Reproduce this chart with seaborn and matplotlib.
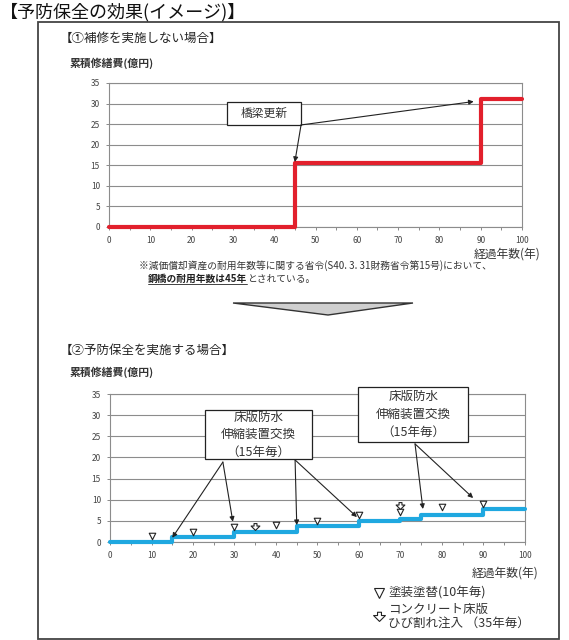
import matplotlib
matplotlib.use('Agg')
import matplotlib.pyplot as plt
from matplotlib.patches import Rectangle, Polygon
from matplotlib.lines import Line2D
from matplotlib.path import Path
import seaborn as sns

# ①補修を実施しない場合
nenji1 = [0, 45, 90, 100]
hiyou1 = [0, 15.5, 31, 31]

# ②予防保全を実施する場合
nenji2 = [0, 15, 30, 45, 60, 70, 75, 90, 100]
hiyou2 = [0, 1.2, 2.4, 3.7, 4.9, 5.5, 6.5, 7.7, 7.7]

# 塗装塗替 (10年毎) の印
tosou_nen = [10, 20, 30, 40, 50, 60, 70, 80, 90]
tosou_y = [1.5, 2.3, 3.6, 4.0, 4.9, 6.3, 7.1, 8.3, 9.0]

# ひび割れ注入 (35年毎) の印
hibi_nen = [35, 70]
hibi_y = [3.5, 8.5]

x_ticks = list(range(0, 101, 10))
y_ticks = list(range(0, 36, 5))

sns.set_theme(style='white')
plt.rcParams['font.family'] = ['Noto Sans CJK JP', 'DejaVu Sans']

W, H = 569, 640
fig = plt.figure(figsize=(W / 100, H / 100), dpi=100)


def fx(x):
    return x / W


def fy(y):
    return 1 - y / H


def rect(l, t, r, b):
    return [l / W, 1 - b / H, (r - l) / W, (b - t) / H]


# 下向き矢印の印 (コンクリート床版ひび割れ注入)
hibi_marker = Path([(-0.3, 0.8), (0.3, 0.8), (0.3, 0.3), (0.9, 0.3), (0, -0.6),
                    (-0.9, 0.3), (-0.3, 0.3), (-0.3, 0.8)], closed=True)


def style_ax(ax):
    ax.set_xlim(0, 100)
    ax.set_ylim(0, 35)
    ax.set_xticks(x_ticks)
    ax.set_yticks(y_ticks)
    ax.set_xticks(range(5, 100, 10), minor=True)
    ax.grid(axis='y', color='#8c8c8c', linewidth=0.8)
    ax.grid(axis='x', visible=False)
    ax.tick_params(axis='both', which='both', direction='out', length=2.5, width=0.6,
                   color='#777777', labelsize=6, labelcolor='#444444',
                   bottom=True, left=True, pad=4)
    for s in ax.spines.values():
        s.set_color('#8c8c8c')
        s.set_linewidth(0.8)
    ax.set_xlabel('')
    ax.set_ylabel('')


def box(ax, x0, y0, x1, y1, txt, size):
    ax.add_patch(Rectangle((x0, y0), x1 - x0, y1 - y0, facecolor='white',
                           edgecolor='#222222', linewidth=0.9, clip_on=False, zorder=5))
    ax.text((x0 + x1) / 2, (y0 + y1) / 2, txt, ha='center', va='center', fontsize=size,
            color='#333333', linespacing=1.45, zorder=6, clip_on=False)


def arrow(ax, start, tip):
    ax.annotate('', xy=tip, xytext=start,
                arrowprops=dict(arrowstyle='-|>', color='#222222', lw=0.8,
                                mutation_scale=7, shrinkA=0, shrinkB=0), zorder=7)


# 大枠とタイトル
fig.add_artist(Rectangle((fx(38), fy(639)), (559 - 38) / W, (639 - 22) / H,
                         transform=fig.transFigure, fill=False, edgecolor='#444444',
                         linewidth=1.3))
fig.text(fx(0), fy(12), '【予防保全の効果(イメージ)】', fontsize=13, va='center',
         color='#111111')

# ---- ① ----
fig.text(fx(60), fy(38), '【①補修を実施しない場合】', fontsize=9, va='center', color='#222222')
fig.text(fx(70), fy(63), '累積修繕費(億円)', fontsize=7.8, va='center', fontweight='bold',
         color='#333333')

ax1 = fig.add_axes(rect(109, 83, 522, 227))
sns.lineplot(x=nenji1, y=hiyou1, drawstyle='steps-post', color='#e2202c', linewidth=3,
             ax=ax1, clip_on=False, zorder=4)
style_ax(ax1)
box(ax1, 28.6, 24.8, 46.5, 30.4, '橋梁更新', 8.5)
arrow(ax1, (46.5, 24.8), (45, 15.8))
arrow(ax1, (46.5, 24.8), (88.3, 30.5))
fig.text(fx(540), fy(254), '経過年数(年)', fontsize=8.5, ha='right', va='center', color='#333333')

# 注記
fs_note = 7
fig.text(fx(315), fy(266), '※減価償却資産の耐用年数等に関する省令(S40. 3. 31財務省令第15号)において、',
         fontsize=fs_note, ha='center', va='center', color='#333333')
t_b = fig.text(fx(148), fy(279), '鋼橋の耐用年数は45年', fontsize=fs_note, ha='left',
               va='center', fontweight='bold', color='#222222')
fig.canvas.draw()
bb = t_b.get_window_extent()
fig.text(bb.x1 / W, fy(279), 'とされている。', fontsize=fs_note, ha='left', va='center',
         color='#333333')
fig.add_artist(Line2D([bb.x0 / W, bb.x1 / W], [bb.y0 / H, bb.y0 / H],
                      transform=fig.transFigure, color='#222222', linewidth=0.6))

# 下向きの大きな矢印
fig.add_artist(Polygon([(fx(233), fy(303)), (fx(413), fy(303)), (fx(328), fy(315))],
                       closed=True, transform=fig.transFigure, facecolor='#cfcfcf',
                       edgecolor='#333333', linewidth=1.0))

# ---- ② ----
fig.text(fx(60), fy(350), '【②予防保全を実施する場合】', fontsize=9, va='center', color='#222222')
fig.text(fx(70), fy(372), '累積修繕費(億円)', fontsize=7.8, va='center', fontweight='bold',
         color='#333333')

ax2 = fig.add_axes(rect(110, 394, 525, 542))
sns.lineplot(x=nenji2, y=hiyou2, drawstyle='steps-post', color='#1fa8e0', linewidth=3,
             ax=ax2, clip_on=False, zorder=4)
sns.scatterplot(x=tosou_nen, y=tosou_y, marker='v', s=22, color='white', edgecolor='#222222',
                linewidth=0.8, ax=ax2, zorder=6)
sns.scatterplot(x=hibi_nen, y=hibi_y, marker=hibi_marker, s=40, color='white',
                edgecolor='#222222', linewidth=0.8, ax=ax2, zorder=6)
style_ax(ax2)

kouzou_txt = '床版防水\n伸縮装置交換\n（15年毎）'
box(ax2, 22.9, 19.6, 48.7, 31.2, kouzou_txt, 9)
box(ax2, 59.8, 23.7, 86.3, 36.7, kouzou_txt, 9)
arrow(ax2, (27.2, 18.9), (15, 1.0))
arrow(ax2, (27.2, 18.9), (29.6, 4.8))
arrow(ax2, (44.6, 19.4), (45, 4.0))
arrow(ax2, (44.6, 19.4), (59.5, 5.9))
arrow(ax2, (73.5, 23.2), (75.4, 7.8))
arrow(ax2, (73.5, 23.2), (87.5, 10.4))
fig.text(fx(538), fy(573), '経過年数(年)', fontsize=8.5, ha='right', va='center', color='#333333')

# 凡例
fig.add_artist(Line2D([fx(379)], [fy(593)], transform=fig.transFigure, marker='v',
                      markersize=6.5, markerfacecolor='white', markeredgecolor='#222222',
                      markeredgewidth=0.8, linestyle='none'))
fig.text(fx(388), fy(593), '塗装塗替(10年毎)', fontsize=9, va='center', color='#333333')
fig.add_artist(Line2D([fx(379)], [fy(617)], transform=fig.transFigure, marker=hibi_marker,
                      markersize=8.5, markerfacecolor='white', markeredgecolor='#222222',
                      markeredgewidth=0.8, linestyle='none'))
fig.text(fx(388), fy(609), 'コンクリート床版', fontsize=9, va='center', color='#333333')
fig.text(fx(388), fy(623), 'ひび割れ注入 （35年毎）', fontsize=9, va='center', color='#333333')

fig.savefig('out.png', dpi=100, facecolor='white')
